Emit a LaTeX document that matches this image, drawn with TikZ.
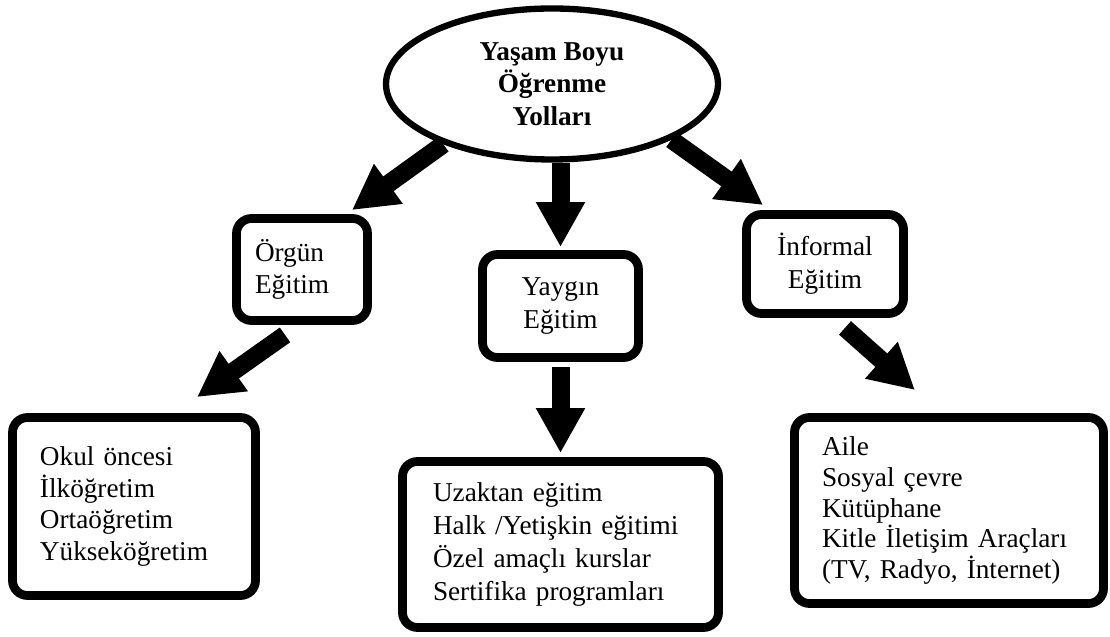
\documentclass[tikz,border=0pt]{standalone}
\usepackage{fontspec}
\setmainfont{Liberation Serif}
\usetikzlibrary{shapes.geometric,arrows.meta,calc}

\begin{document}
\begin{tikzpicture}[
        box/.style={draw, line width=5pt, rounded corners=0.3cm, inner sep=0pt},
        bigarrow/.style={line width=0.36cm, -{Triangle[length=0.9cm,width=0.92cm]}},
        font=\fontsize{15.5}{18.6}\selectfont
    ]
        
        \useasboundingbox (0,0) rectangle (22.2,-12.74);
        
        %Ellipse
        %Top layer
        \node[draw, ellipse, line width=3.6pt, minimum width=6.64cm, minimum height=3.02cm, inner sep=0pt, align=center, font=\fontsize{15.5}{18.6}\selectfont\bfseries] (top) at (11.04,-1.68) {Yaşam Boyu\\Öğrenme\\Yolları};
        
        %Layer 1
        %left
        \node[box, minimum width=2.62cm, minimum height=2.04cm, text width=1.88cm, inner xsep=0.37cm, align=left] (orgun) at (6.04,-5.39) {Örgün\\Eğitim};
        %middle
        \node[box, minimum width=3.12cm, minimum height=2.06cm, align=center] (yaygin) at (11.21,-6.12) {Yaygın\\Eğitim};
        %right
        \node[box, minimum width=3.14cm, minimum height=1.98cm, align=center] (informal) at (16.5,-5.28) {İnformal\\Eğitim};
        
        %Layer 2
        %left
        \node[box, minimum width=4.86cm, minimum height=3.56cm, text width=3.76cm, inner xsep=0.55cm, align=left, font=\fontsize{15.5}{18}\selectfont] (okul) at (2.68,-10.13) {Okul öncesi\\İlköğretim\\Ortaöğretim\\Yükseköğretim};
        %middle
        \node[box, minimum width=6.32cm, minimum height=3.32cm, text width=5.1cm, inner xsep=0.61cm, align=left] (uzaktan) at (11.21,-10.89) {Uzaktan eğitim\\Halk /Yetişkin eğitimi\\Özel amaçlı kurslar\\Sertifika programları};
        %right
        \node[box, minimum width=6.18cm, minimum height=3.72cm, text width=5.08cm, inner xsep=0.55cm, align=left, font=\fontsize{15.5}{17.6}\selectfont] (aile) at (18.98,-10.21) {Aile\\Sosyal çevre\\Kütüphane\\Kitle İletişim Araçları\\(TV, Radyo, İnternet)};
        
        
        %Edges
        
        %from the ellipse
        \draw[bigarrow] (top.209) -- ($(orgun.north east)+(-0.4,0.08)$);
        
        \draw[bigarrow] (top.south -| yaygin.north) -- ($(yaygin.north)+(0,0.06)$);
        
        \draw[bigarrow] (top.335) -- ($(informal.north west)+(0.42,0.1)$);
        
        %to the lists
        \draw[bigarrow] ($(orgun.south)+(-0.34,-0.2)$) -- ($(okul.north)+(1.26,0.32)$);
        
        \draw[bigarrow] ($(yaygin.south)+(0,-0.1)$) -- ($(uzaktan.north)+(0,0.08)$);
        
        \draw[bigarrow] ($(informal.south)+(0.4,-0.2)$) -- ($(aile.north)+(-0.68,0.46)$);
        
        
        \end{tikzpicture}
\end{document}
